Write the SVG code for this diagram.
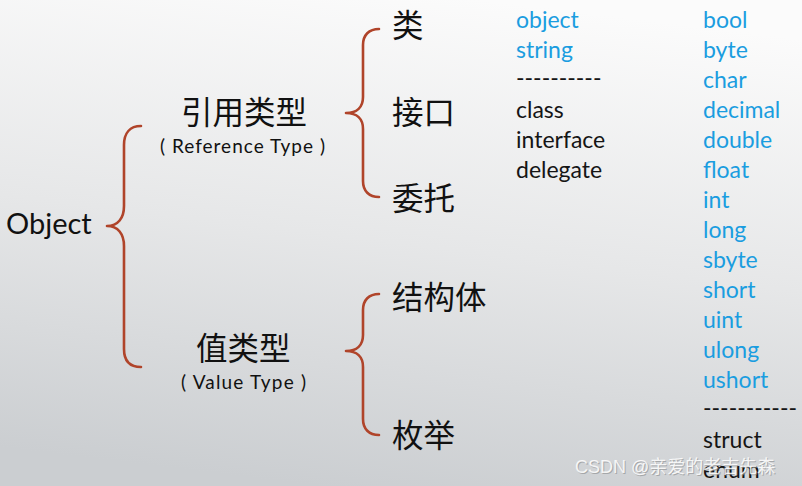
<svg xmlns="http://www.w3.org/2000/svg" width="802" height="486" viewBox="0 0 802 486">
<defs>
<linearGradient id="bg" x1="0.6" y1="0" x2="0.4" y2="1">
<stop offset="0" stop-color="#fbfbfb"/>
<stop offset="0.5" stop-color="#e6e7e8"/>
<stop offset="1" stop-color="#cbced1"/>
</linearGradient>
</defs>
<style>
.br{fill:none;stroke:#b0442a;stroke-width:2.6;stroke-linecap:round;stroke-linejoin:round}
.cn{font-family:"Noto Sans CJK SC","Noto Sans",sans-serif;font-size:31.5px;fill:#111}
.en{font-family:Lato,"Noto Sans",sans-serif;fill:#111}
.sub{font-family:Lato,"Noto Sans",sans-serif;font-size:19px;fill:#111}
.kw{font-family:Lato,"Noto Sans",sans-serif;font-size:23px}
.b{fill:#1a9de0}
.k{fill:#151515}
</style>
<rect width="802" height="486" fill="url(#bg)"/>
<g id="connectors">
<path class="br" d="M141,126 C130,126 124,133 124,145 L124,206 C124,218 118,226 107,226 C118,226 124,234 124,246 L124,349 C124,361 130,367 141,367"/>
<path class="br" d="M379,29 C369,29 363,35 363,45 L363,97 C363,107 357,113 346,113 C357,113 363,119 363,129 L363,181 C363,191 369,197 379,197"/>
<path class="br" d="M379,294 C369,294 363,300 363,310 L363,335 C363,345 357,351 346,351 C357,351 363,357 363,367 L363,419 C363,429 369,435 379,435"/>
</g>
<g id="object"><text class="en" x="6" y="234" font-size="29">Object</text></g>
<g id="ref">
<text class="cn" x="181" y="124">引用类型</text>
<text class="sub" x="160" y="153" textLength="165" lengthAdjust="spacing">(  Reference Type  )</text>
</g>
<g id="val">
<text class="cn" x="196" y="360">值类型</text>
<text class="sub" x="181" y="389" textLength="125" lengthAdjust="spacing">(  Value Type  )</text>
</g>
<g id="lei"><text class="cn" x="392" y="37">类</text></g>
<g id="jiekou"><text class="cn" x="392" y="124">接口</text></g>
<g id="weituo"><text class="cn" x="392" y="210">委托</text></g>
<g id="jiegouti"><text class="cn" x="392" y="309">结构体</text></g>
<g id="meiju"><text class="cn" x="392" y="447">枚举</text></g>
<g id="reflist" class="kw">
<text class="b" x="516" y="28">object</text>
<text class="b" x="516" y="58">string</text>
<text class="k" x="516" y="86">----------</text>
<text class="k" x="516" y="118">class</text>
<text class="k" x="516" y="148">interface</text>
<text class="k" x="516" y="178">delegate</text>
</g>
<g id="vallist" class="kw">
<text class="b" x="703" y="28">bool</text>
<text class="b" x="703" y="58">byte</text>
<text class="b" x="703" y="88">char</text>
<text class="b" x="703" y="118">decimal</text>
<text class="b" x="703" y="148">double</text>
<text class="b" x="703" y="178">float</text>
<text class="b" x="703" y="208">int</text>
<text class="b" x="703" y="238">long</text>
<text class="b" x="703" y="268">sbyte</text>
<text class="b" x="703" y="298">short</text>
<text class="b" x="703" y="328">uint</text>
<text class="b" x="703" y="358">ulong</text>
<text class="b" x="703" y="388">ushort</text>
<text class="k" x="703" y="416">-----------</text>
<text class="k" x="703" y="448">struct</text>
<text class="k" x="703" y="478">enum</text>
</g>
<g id="watermark" font-family="'Liberation Sans','Noto Sans CJK SC',sans-serif" font-size="18">
<text x="576" y="474" fill="#8a8c8e" opacity="0.6">CSDN @亲爱的老吉先森</text>
<text x="575" y="473" fill="#ffffff" opacity="0.85">CSDN @亲爱的老吉先森</text>
</g>
</svg>
